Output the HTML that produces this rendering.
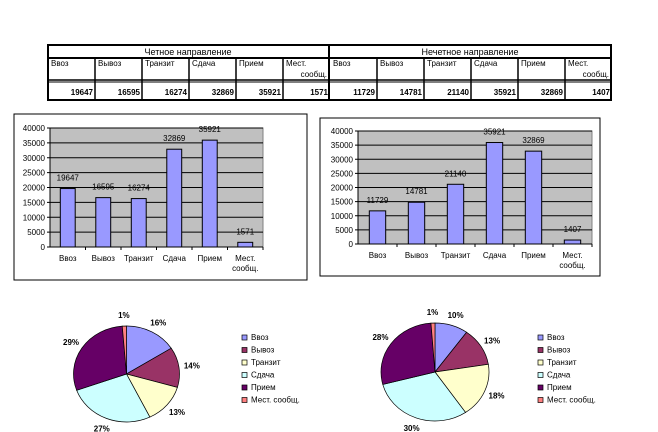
<!DOCTYPE html>
<html><head><meta charset="utf-8"><style>
body{margin:0;width:658px;height:432px;background:#fff;font-family:"Liberation Sans",sans-serif;overflow:hidden}
svg{position:absolute;left:0;top:0}
</style></head><body>
<svg id="s" width="658" height="432" xmlns="http://www.w3.org/2000/svg" font-family="Liberation Sans, sans-serif" font-size="8"></svg>
<script>
var s=document.getElementById('s'),h='';
function T(x,y,t,a,sz,w){h+='<text x="'+x+'" y="'+y+'" text-anchor="'+(a||'start')+'" font-size="'+(sz||8)+'"'+(w?' font-weight="bold"':'')+'>'+t+'</text>';}
function L(x1,y1,x2,y2,w,c){h+='<line x1="'+x1+'" y1="'+y1+'" x2="'+x2+'" y2="'+y2+'" stroke="'+(c||'#000')+'" stroke-width="'+(w||1)+'"/>';}
// table
h+='<rect x="48" y="45" width="563" height="55" fill="none" stroke="#000" stroke-width="2"/>';
L(48,58,611,58,2);L(48,80,611,80,1.5);L(48,82,611,82,1);
L(329,45,329,100,2);
T(188,55,'Четное направление','middle',9);T(470,55,'Нечетное направление','middle',9);
var hd=['Ввоз','Вывоз','Транзит','Сдача','Прием','Мест.'];
var v1=[19647,16595,16274,32869,35921,1571],v2=[11729,14781,21140,35921,32869,1407];
for(var i=0;i<12;i++){var x=48+i*47;if(i%6)L(x,58,x,100,1.5);
T(x+3,66,hd[i%6]);if(i%6==5)T(x+44,77,'сообщ.','end');
T(x+45,95,(i<6?v1:v2)[i%6],'end',8,true);}
// bar charts
function bar(bx,by,bw,bh,px,py,pw,ph,vals,cats){
h+='<rect x="'+bx+'" y="'+by+'" width="'+bw+'" height="'+bh+'" fill="#fff" stroke="#000"/>';
h+='<rect x="'+px+'" y="'+py+'" width="'+pw+'" height="'+ph+'" fill="#c0c0c0" stroke="#808080"/>';
for(var k=0;k<=8;k++){var y=py+ph-k*ph/8;L(px,y,px+pw,y,1);L(px-3,y,px,y);T(px-5,y+3,k*5000,'end');}
L(px,py,px,py+ph);
var cw=pw/6,bwid=cw*0.42;
for(var i=0;i<6;i++){var cx=px+cw*(i+0.5),hh=vals[i]/40000*ph;
h+='<rect x="'+(cx-bwid/2)+'" y="'+(py+ph-hh)+'" width="'+bwid+'" height="'+hh+'" fill="#9999ff" stroke="#000"/>';
T(cx,py+ph-hh-8,vals[i],'middle');L(px+cw*(i+1),py+ph,px+cw*(i+1),py+ph+3);
if(i<5)T(cx,py+ph+14,cats[i],'middle');else{T(cx,py+ph+14,'Мест.','middle');T(cx,py+ph+24,'сообщ.','middle');}}
}
var cats=['Ввоз','Вывоз','Транзит','Сдача','Прием'];
bar(14,114,293,166,50,128,213,119,v1,cats);
bar(320,118,280,158,358,131,234,113,v2,cats);
// pies
var cols=['#9999ff','#993366','#ffffcc','#ccffff','#660066','#ff8080'];
function pie(cx,cy,rx,ry,vals,lx,labs){
var tot=vals.reduce(function(a,b){return a+b}),a=-Math.PI/2;
for(var i=0;i<6;i++){var d=vals[i]/tot*2*Math.PI,a2=a+d;
var x1=cx+rx*Math.cos(a),y1=cy+ry*Math.sin(a),x2=cx+rx*Math.cos(a2),y2=cy+ry*Math.sin(a2);
h+='<path d="M'+cx+','+cy+'L'+x1+','+y1+'A'+rx+','+ry+' 0 '+(d>Math.PI?1:0)+' 1 '+x2+','+y2+'Z" fill="'+cols[i]+'" stroke="#000" stroke-width="0.7"/>';
var m=(a+a2)/2;T(cx+(rx+13)*Math.cos(m),cy+(ry+11)*Math.sin(m)+3,labs[i],'middle',8,true);a=a2;}
var n=['Ввоз','Вывоз','Транзит','Сдача','Прием','Мест. сообщ.'];
for(var i=0;i<6;i++){var y=340+i*12.5;h+='<rect x="'+lx+'" y="'+(y-5)+'" width="5" height="5" fill="'+cols[i]+'" stroke="#000" stroke-width="0.7"/>';T(lx+9,y,n[i]);}
}
pie(126.5,374,53,48,v1,242,['16%','14%','13%','27%','29%','1%']);
pie(435,372,54,49,v2,538,['10%','13%','18%','30%','28%','1%']);
s.innerHTML=h;
</script>
</body></html>
